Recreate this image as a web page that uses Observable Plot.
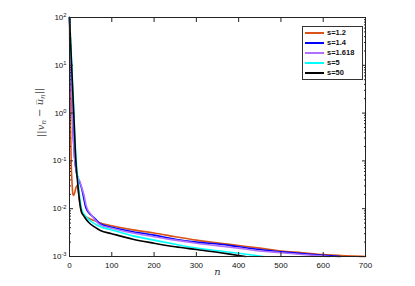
<!DOCTYPE html>
<html><head><meta charset="utf-8">
<script src="https://cdn.jsdelivr.net/npm/d3@7"></script>
<script src="https://cdn.jsdelivr.net/npm/@observablehq/plot@0.6"></script>
<style>
body{margin:0;background:#fff;}
#wrap{position:relative;width:415px;height:286px;font-family:"Liberation Sans",Arial,sans-serif;}
#legend{position:absolute;left:302px;top:26px;width:61px;height:54px;border:1px solid #333;background:#fff;box-sizing:border-box;padding-top:1px}
.row{height:10px;display:flex;align-items:center;}
.sw{width:19px;height:2px;margin-left:2px;margin-right:3px;flex:none}
.lab{font-size:7.5px;font-weight:bold;color:#111;line-height:10px;white-space:nowrap}
</style></head><body><div id="wrap"><div id="legend"></div></div>
<script>
const seriesNames = ["s=1.2", "s=1.4", "s=1.618", "s=5", "s=50"];
const seriesColors = ["#D95319", "#0000FF", "#B070FF", "#00FFFF", "#000000"];

const nS12 = [0, 2, 4, 6, 8, 10, 14, 18, 23, 28, 35, 45, 60, 73, 100, 150, 200, 250, 300, 357, 400, 450, 500, 550, 600, 650, 700];
const vS12 = [100, 1.0, 0.09, 0.035, 0.02, 0.019, 0.025, 0.031, 0.016, 0.0085, 0.0072, 0.0063, 0.0056, 0.005, 0.0044, 0.0036, 0.0031, 0.0026, 0.0022, 0.0019, 0.0017, 0.0015, 0.0013, 0.0012, 0.0011, 0.00104, 0.001];

const nS14 = [0, 4, 8, 12, 16, 20, 25, 30, 34, 38, 43, 50, 60, 73, 100, 150, 200, 250, 300, 357, 400, 450, 500, 550, 600, 640];
const vS14 = [100, 5, 0.5, 0.12, 0.06, 0.043, 0.034, 0.024, 0.016, 0.011, 0.0088, 0.0075, 0.0062, 0.0048, 0.0041, 0.0033, 0.0028, 0.0023, 0.002, 0.0018, 0.0016, 0.0014, 0.00125, 0.00115, 0.00106, 0.001];

const nS1618 = [0, 4, 8, 12, 16, 20, 25, 30, 35, 39, 43, 50, 60, 73, 100, 150, 200, 250, 300, 357, 400, 450, 500, 550, 600, 615];
const vS1618 = [100, 5, 0.5, 0.12, 0.06, 0.045, 0.036, 0.026, 0.018, 0.012, 0.0095, 0.0078, 0.0059, 0.0046, 0.0039, 0.0031, 0.0026, 0.0022, 0.0019, 0.00165, 0.0015, 0.0013, 0.0012, 0.0011, 0.00102, 0.001];

const nS5 = [0, 5, 10, 15, 20, 25, 29, 35, 45, 60, 73, 100, 150, 200, 250, 300, 357, 400, 459];
const vS5 = [100, 12, 1.2, 0.13, 0.04, 0.015, 0.0095, 0.0075, 0.006, 0.0048, 0.0042, 0.0036, 0.0027, 0.0022, 0.0018, 0.0015, 0.0013, 0.00117, 0.001];

const nS50 = [0, 5, 10, 15, 20, 24, 28, 35, 45, 60, 73, 100, 150, 200, 250, 300, 357, 400, 416];
const vS50 = [100, 10, 1, 0.1, 0.03, 0.014, 0.0088, 0.0068, 0.0052, 0.0041, 0.0035, 0.003, 0.0023, 0.0019, 0.0016, 0.0014, 0.0012, 0.00105, 0.001];

const xTicks = [0, 100, 200, 300, 400, 500, 600, 700];
const yTicks = [1e-3, 1e-2, 1e-1, 1e0, 1e1, 1e2];
const yExponents = ["-3", "-2", "-1", "0", "1", "2"];
const xLabel = "n";

const nArrays = [nS12, nS14, nS1618, nS5, nS50];
const vArrays = [vS12, vS14, vS1618, vS5, vS50];
const data = seriesNames.flatMap((s, i) => nArrays[i].map((n, j) => ({series: s, n, v: vArrays[i][j]})));
const yMinor = yTicks.slice(0, -1).flatMap(d => d3.range(2, 10).map(k => k * d));
const YLAB = "__YLABEL__";

const chart = Plot.plot({
  width: 415, height: 286,
  marginLeft: 69, marginRight: 50, marginTop: 17, marginBottom: 30,
  x: {domain: [0, 700]},
  y: {type: "log", domain: [1e-3, 1e2]},
  color: {domain: seriesNames, range: seriesColors},
  style: {fontFamily: "'Liberation Sans', Arial, sans-serif", fontSize: "8px", background: "white", color: "#000"},
  marks: [
    Plot.line(data, {x: "n", y: "v", stroke: "series", z: "series", strokeWidth: 1.6, curve: "monotone-x"}),
    Plot.frame({stroke: "#222"}),
    Plot.axisX(xTicks, {anchor: "bottom", tickSize: -4, fill: "none", label: null, stroke: "#222"}),
    Plot.axisX(xTicks, {anchor: "top", tickSize: -4, fill: "none", label: null, stroke: "#222"}),
    Plot.axisX(xTicks, {anchor: "bottom", tickSize: 0, tickPadding: 6, label: null, fill: "#111"}),
    Plot.axisY(yTicks, {anchor: "left", tickSize: -4, fill: "none", label: null, stroke: "#222"}),
    Plot.axisY(yMinor, {anchor: "left", tickSize: -2, fill: "none", label: null, stroke: "#222"}),
    Plot.axisY(yTicks, {anchor: "right", tickSize: -4, fill: "none", label: null, stroke: "#222"}),
    Plot.axisY(yMinor, {anchor: "right", tickSize: -2, fill: "none", label: null, stroke: "#222"}),
    Plot.axisY(yTicks, {anchor: "left", tickSize: 0, tickPadding: 3, label: null, fill: "#111",
      tickFormat: d => "10^" + yExponents[yTicks.indexOf(d)]}),
    Plot.text([xLabel], {frameAnchor: "bottom", dy: 18, text: d => d, fontFamily: "'DejaVu Serif', serif", fontStyle: "italic", fontSize: 10, fill: "#333"}),
    Plot.text([YLAB], {frameAnchor: "left", dx: -29, rotate: -90, text: d => d, fontFamily: "'DejaVu Serif', serif", fontSize: 10, fill: "#444"})
  ]
});

document.getElementById("wrap").prepend(chart);

// superscript tick labels and math y label
d3.select(chart).selectAll("text").each(function() {
  const t = this.textContent;
  if (t.startsWith("10^")) {
    const exp = t.slice(3);
    const sel = d3.select(this);
    sel.text("10");
    sel.append("tspan").attr("dy", "-0.45em").attr("font-size", "0.72em").text(exp);
  } else if (t === YLAB) {
    const sel = d3.select(this);
    sel.text("");
    sel.append("tspan").text("||");
    sel.append("tspan").attr("font-style", "italic").text("v");
    sel.append("tspan").attr("font-style", "italic").attr("font-size", "0.7em").attr("dy", "0.3em").text("n");
    sel.append("tspan").attr("dy", "-0.3em").text(" \u2212 ");
    sel.append("tspan").attr("font-style", "italic").text("u\u0305");
    sel.append("tspan").attr("font-style", "italic").attr("font-size", "0.7em").attr("dy", "0.3em").text("n");
    sel.append("tspan").attr("dy", "-0.3em").text("||");
  }
});

// legend
const leg = d3.select("#legend");
seriesNames.forEach((s, i) => {
  const row = leg.append("div").attr("class", "row");
  row.append("div").attr("class", "sw").style("background-color", seriesColors[i]);
  row.append("span").attr("class", "lab").text(s);
});
</script>
</body></html>
